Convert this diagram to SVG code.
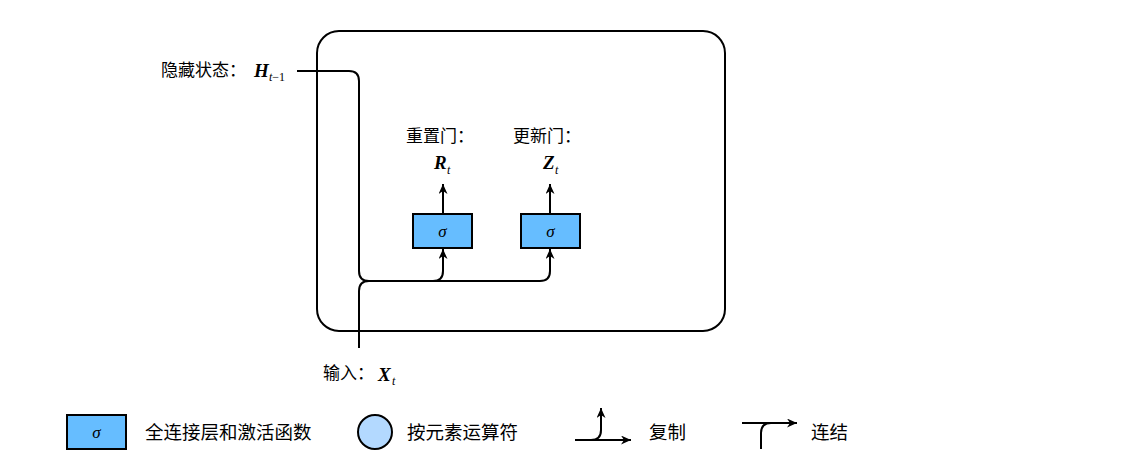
<svg xmlns="http://www.w3.org/2000/svg" width="1126" height="463" viewBox="0 0 1126 463">
<style>
.cn{font-family:"Noto Sans CJK SC","Noto Sans",sans-serif;font-size:17px;fill:#000}
.lg{font-size:18.5px}
.m{font-family:"Liberation Serif",serif;font-style:italic;font-weight:bold;font-size:19px}
.s{font-family:"Liberation Serif",serif;font-style:italic;font-size:12px}
.sig{font-family:"Liberation Serif",serif;font-style:italic;font-size:17px;text-anchor:middle}
.box{fill:#66BDFF;stroke:#000;stroke-width:2}
.ln{fill:none;stroke:#000;stroke-width:2}
</style>
<defs>
<marker id="ah" markerUnits="userSpaceOnUse" markerWidth="12" markerHeight="10" refX="10" refY="4.5" orient="auto">
<path d="M0,0 L10,4.5 L0,9 L3,4.5 Z" fill="#000"/>
</marker>
</defs>
<rect id="cell" x="317" y="31" width="408" height="300" rx="22" ry="22" fill="none" stroke="#000" stroke-width="2"/>
<g id="connectors">
<path class="ln" d="M297,71 H349 Q359,71 359,81 V271 Q359,281 369,281 H433 Q443,281 443,271 V249" marker-end="url(#ah)"/>
<path class="ln" d="M433,281 H540 Q550,281 550,271 V249" marker-end="url(#ah)"/>
<path class="ln" d="M359,348 V291 Q359,281 369,281"/>
<path class="ln" d="M443,214 V184" marker-end="url(#ah)"/>
<path class="ln" d="M550,214 V184" marker-end="url(#ah)"/>
</g>
<g id="reset-gate">
<rect class="box" x="413" y="214" width="59" height="34"/>
<text class="sig" x="442.5" y="237">σ</text>
</g>
<g id="update-gate">
<rect class="box" x="521" y="214" width="59" height="34"/>
<text class="sig" x="550.5" y="237">σ</text>
</g>
<g id="label-h">
<text class="cn" x="161" y="76">隐藏状态：</text>
<text class="m" x="254" y="77">H</text>
<text class="s" x="269" y="81">t<tspan font-style="normal">−1</tspan></text>
</g>
<g id="label-r">
<text class="cn" x="406" y="142">重置门：</text>
<text class="m" x="434" y="169">R</text>
<text class="s" x="447" y="174">t</text>
</g>
<g id="label-z">
<text class="cn" x="513" y="142">更新门：</text>
<text class="m" x="543" y="169">Z</text>
<text class="s" x="555" y="174">t</text>
</g>
<g id="label-x">
<text class="cn" x="323" y="379">输入：</text>
<text class="m" x="378" y="381">X</text>
<text class="s" x="392" y="385">t</text>
</g>
<g id="legend">
<g id="legend-fc">
<rect class="box" x="67" y="415" width="59" height="34"/>
<text class="sig" x="96.5" y="438">σ</text>
<text class="cn lg" x="145" y="439">全连接层和激活函数</text>
</g>
<g id="legend-op">
<circle cx="375" cy="432" r="17" fill="#B3D9FF" stroke="#000" stroke-width="2"/>
<text class="cn lg" x="407" y="439">按元素运算符</text>
</g>
<g id="legend-copy">
<path class="ln" d="M575,440 H631" marker-end="url(#ah)"/>
<path class="ln" d="M591,440 Q601,440 601,430 V408" marker-end="url(#ah)"/>
<text class="cn lg" x="649" y="439">复制</text>
</g>
<g id="legend-concat">
<path class="ln" d="M742,423 H797" marker-end="url(#ah)"/>
<path class="ln" d="M761,449 V433 Q761,423 771,423"/>
<text class="cn lg" x="811" y="439">连结</text>
</g>
</g>
</svg>
